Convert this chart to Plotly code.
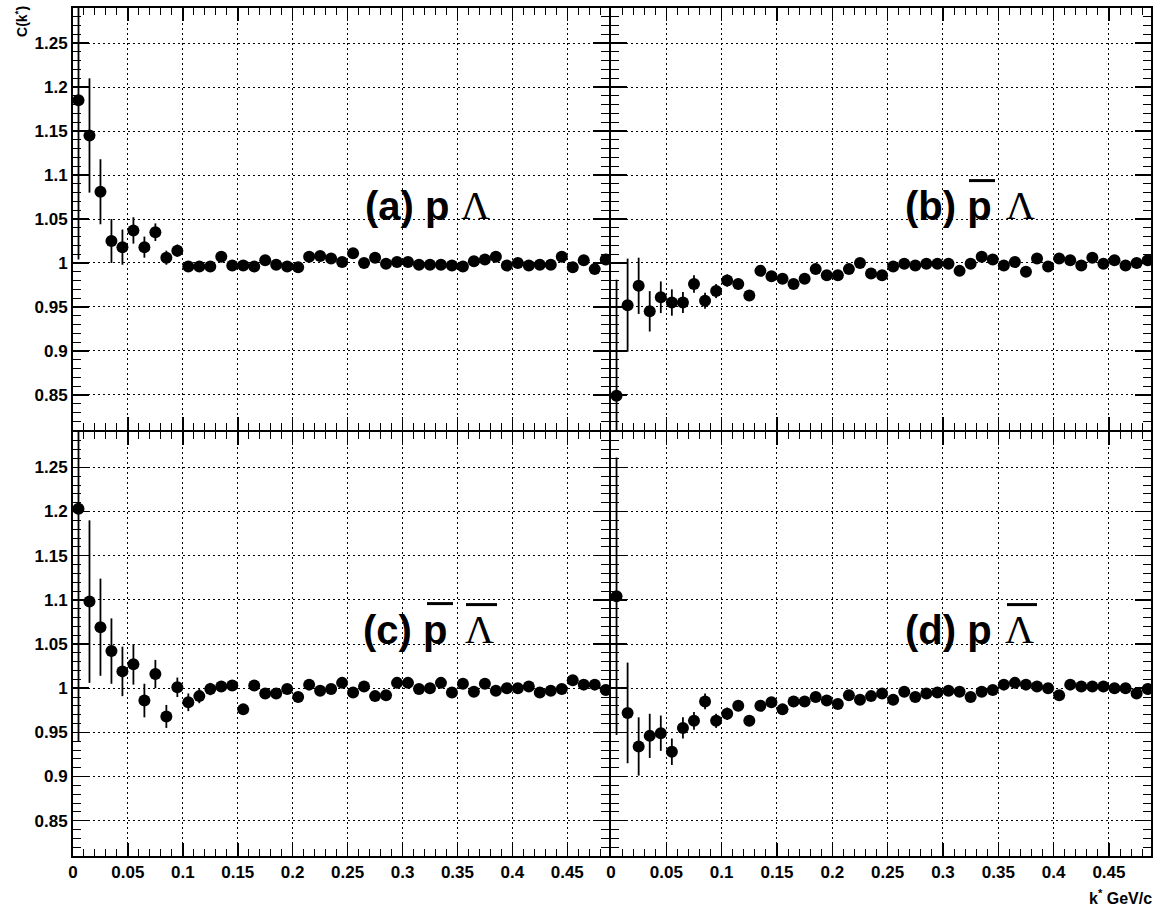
import plotly.graph_objects as go

# ---------------- data ----------------
k_star = [0.005, 0.015, 0.025, 0.035, 0.045, 0.055, 0.065, 0.075, 0.085, 0.095,
          0.105, 0.115, 0.125, 0.135, 0.145, 0.155, 0.165, 0.175, 0.185, 0.195,
          0.205, 0.215, 0.225, 0.235, 0.245, 0.255, 0.265, 0.275, 0.285, 0.295,
          0.305, 0.315, 0.325, 0.335, 0.345, 0.355, 0.365, 0.375, 0.385, 0.395,
          0.405, 0.415, 0.425, 0.435, 0.445, 0.455, 0.465, 0.475, 0.485]

c_p_lam = [1.185, 1.145, 1.081, 1.025, 1.018, 1.037, 1.018, 1.035, 1.006, 1.014,
           0.996, 0.996, 0.996, 1.007, 0.997, 0.997, 0.996, 1.003, 0.998, 0.996,
           0.995, 1.007, 1.008, 1.005, 1.001, 1.011, 1.000, 1.006, 0.999, 1.001,
           1.001, 0.998, 0.998, 0.998, 0.997, 0.996, 1.002, 1.004, 1.007, 0.997,
           1.000, 0.997, 0.998, 0.998, 1.007, 0.995, 1.003, 0.993, 1.004]
e_p_lam = [0.181, 0.065, 0.037, 0.025, 0.020, 0.015, 0.012, 0.010, 0.008, 0.007,
           0.006, 0.006, 0.005, 0.005, 0.005, 0.005, 0.004, 0.004, 0.004, 0.004,
           0.004, 0.004, 0.004, 0.004, 0.004, 0.004, 0.004, 0.004, 0.004, 0.004,
           0.003, 0.003, 0.003, 0.003, 0.003, 0.003, 0.003, 0.003, 0.003, 0.003,
           0.003, 0.003, 0.003, 0.003, 0.003, 0.003, 0.003, 0.003, 0.003]

c_pbar_lam = [0.849, 0.952, 0.974, 0.945, 0.961, 0.955, 0.955, 0.976, 0.957, 0.968,
              0.980, 0.976, 0.963, 0.991, 0.985, 0.982, 0.976, 0.982, 0.993, 0.986,
              0.986, 0.993, 1.000, 0.988, 0.986, 0.996, 0.999, 0.997, 0.999, 0.999,
              0.999, 0.991, 0.999, 1.007, 1.004, 0.997, 1.001, 0.990, 1.005, 0.996,
              1.005, 1.003, 0.997, 1.006, 0.999, 1.003, 0.997, 1.000, 1.003]
e_pbar_lam = [0.132, 0.053, 0.032, 0.023, 0.018, 0.015, 0.012, 0.010, 0.009, 0.008,
              0.007, 0.006, 0.006, 0.005, 0.005, 0.005, 0.005, 0.004, 0.004, 0.004,
              0.004, 0.004, 0.004, 0.004, 0.004, 0.004, 0.004, 0.004, 0.004, 0.004,
              0.003, 0.003, 0.003, 0.003, 0.003, 0.003, 0.003, 0.003, 0.003, 0.003,
              0.003, 0.003, 0.003, 0.003, 0.003, 0.003, 0.003, 0.003, 0.003]

c_pbar_lambar = [1.203, 1.098, 1.069, 1.042, 1.019, 1.027, 0.986, 1.016, 0.968, 1.001,
                 0.984, 0.991, 0.999, 1.002, 1.003, 0.976, 1.003, 0.994, 0.994, 0.999,
                 0.990, 1.004, 0.997, 0.999, 1.006, 0.995, 1.002, 0.991, 0.992, 1.006,
                 1.006, 0.999, 1.000, 1.006, 0.995, 1.005, 0.996, 1.005, 0.997, 1.000,
                 1.000, 1.002, 0.995, 0.997, 0.999, 1.009, 1.004, 1.004, 0.998]
e_pbar_lambar = [0.263, 0.092, 0.055, 0.037, 0.028, 0.023, 0.019, 0.016, 0.013, 0.011,
                 0.010, 0.008, 0.007, 0.006, 0.006, 0.005, 0.005, 0.005, 0.005, 0.004,
                 0.004, 0.004, 0.004, 0.004, 0.004, 0.004, 0.004, 0.004, 0.004, 0.004,
                 0.004, 0.004, 0.004, 0.004, 0.004, 0.004, 0.004, 0.004, 0.004, 0.004,
                 0.004, 0.004, 0.004, 0.004, 0.004, 0.004, 0.004, 0.004, 0.004]

c_p_lambar = [1.104, 0.972, 0.934, 0.946, 0.949, 0.928, 0.955, 0.963, 0.985, 0.963,
              0.971, 0.980, 0.963, 0.980, 0.984, 0.976, 0.985, 0.985, 0.990, 0.986,
              0.982, 0.992, 0.987, 0.991, 0.994, 0.987, 0.996, 0.990, 0.994, 0.995,
              0.997, 0.996, 0.990, 0.996, 0.998, 1.004, 1.006, 1.004, 1.002, 1.000,
              0.992, 1.004, 1.002, 1.002, 1.002, 1.000, 1.000, 0.994, 0.999]
e_p_lambar = [0.157, 0.057, 0.033, 0.025, 0.020, 0.015, 0.012, 0.010, 0.009, 0.008,
              0.007, 0.006, 0.006, 0.005, 0.005, 0.005, 0.005, 0.004, 0.004, 0.004,
              0.004, 0.004, 0.004, 0.004, 0.004, 0.004, 0.004, 0.004, 0.004, 0.004,
              0.003, 0.003, 0.003, 0.003, 0.003, 0.003, 0.003, 0.003, 0.003, 0.003,
              0.003, 0.003, 0.003, 0.003, 0.003, 0.003, 0.003, 0.003, 0.003]

x_tick_vals = [0, 0.05, 0.1, 0.15, 0.2, 0.25, 0.3, 0.35, 0.4, 0.45]
x_tick_text = ["0", "0.05", "0.1", "0.15", "0.2", "0.25", "0.3", "0.35", "0.4", "0.45"]
y_tick_vals = [0.85, 0.9, 0.95, 1.0, 1.05, 1.1, 1.15, 1.2, 1.25]
y_tick_text = ["0.85", "0.9", "0.95", "1", "1.05", "1.1", "1.15", "1.2", "1.25"]

panel_labels = ["(a) p", "(b) p", "(c) p", "(d) p"]
panel_symbol = "\u039b"

# ---------------- layout ----------------
W, H = 1160, 909
ML, MR, MT, MB = 73, 9, 6, 53
PW, PH = W - ML - MR, H - MT - MB

def px(X):
    return (X - ML) / PW

def py(Y):
    return (H - MB - Y) / PH

FONT = "Liberation Sans, Arial, Helvetica, sans-serif"
SERIF = "Liberation Serif, Times New Roman, serif"

xdom = [[0.0, px(609)], [px(611), 1.0]]
ydom = [[py(429), 1.0], [0.0, py(431)]]
XR = [0, 0.488]
YR = [0.81, 1.29]
TICKFONT = dict(family=FONT, size=17, color="black", weight="bold")

fig = go.Figure()

series = [(c_p_lam, e_p_lam), (c_pbar_lam, e_pbar_lam),
          (c_pbar_lambar, e_pbar_lambar), (c_p_lambar, e_p_lambar)]

for i, (vals, errs) in enumerate(series):
    n = i + 1
    xa = "x" if n == 1 else f"x{n}"
    ya = "y" if n == 1 else f"y{n}"
    fig.add_trace(go.Scatter(
        x=k_star, y=vals, xaxis=xa, yaxis=ya, mode="markers",
        marker=dict(color="black", size=12, line=dict(width=0)),
        error_y=dict(type="data", array=errs, visible=True, color="black",
                     thickness=1.8, width=0),
        showlegend=False, cliponaxis=True, hoverinfo="skip",
    ))
    row, col = divmod(i, 2)
    common_x = dict(
        domain=xdom[col], range=XR, anchor=ya,
        showline=True, linecolor="black", linewidth=2, mirror="ticks",
        ticks="inside", ticklen=13, tickwidth=1.5, tickcolor="black",
        tickmode="array", tickvals=x_tick_vals, ticktext=x_tick_text,
        showticklabels=(row == 1), tickfont=TICKFONT,
        showgrid=True, gridcolor="black", gridwidth=1, griddash="2px,3px",
        zeroline=False, fixedrange=True,
        minor=dict(ticks="inside", ticklen=7, tickwidth=1, tickcolor="black",
                   tickmode="linear", tick0=0, dtick=0.01, showgrid=False),
    )
    common_y = dict(
        domain=ydom[row], range=YR, anchor=xa,
        showline=True, linecolor="black", linewidth=2, mirror="ticks",
        ticks="inside", ticklen=16, tickwidth=1.5, tickcolor="black",
        tickmode="array", tickvals=y_tick_vals, ticktext=y_tick_text,
        showticklabels=(col == 0), tickfont=TICKFONT,
        showgrid=True, gridcolor="black", gridwidth=1, griddash="2px,3px",
        zeroline=False, fixedrange=True,
        minor=dict(ticks="inside", ticklen=8, tickwidth=1, tickcolor="black",
                   tickmode="linear", tick0=0.8, dtick=0.01, showgrid=False),
    )
    fig.update_layout(**{("xaxis" if n == 1 else f"xaxis{n}"): common_x,
                         ("yaxis" if n == 1 else f"yaxis{n}"): common_y})

annotations = []
shapes = []
# label placement (pixel positions in the picture): left of "(x) p", left of Lambda, baseline
lab_pos = [
    (363, 459, 218),
    (903, 1004, 218),
    (361, 463, 643),
    (903, 1003, 643),
]
LS = 40
for i, (xl, xs, base) in enumerate(lab_pos):
    annotations.append(dict(
        x=px(xl), y=py(base - 0.35 * LS), xref="paper", yref="paper",
        xanchor="left", yanchor="middle", showarrow=False,
        text="<b>" + panel_labels[i] + "</b>",
        font=dict(family=FONT, size=LS, color="black"),
    ))
    annotations.append(dict(
        x=px(xs), y=py(base - 0.34 * LS), xref="paper", yref="paper",
        xanchor="left", yanchor="middle", showarrow=False,
        text=panel_symbol,
        font=dict(family=SERIF, size=LS, color="black"),
    ))

# overbars (antiparticles)
bars = [(969, 995, 179), (427, 453, 603), (466, 497, 604), (1007, 1037, 604)]
for x0, x1, yb in bars:
    shapes.append(dict(type="line", xref="paper", yref="paper",
                       x0=px(x0), x1=px(x1), y0=py(yb), y1=py(yb),
                       line=dict(color="black", width=3)))

# axis titles
annotations.append(dict(
    x=px(21), y=py(20), xref="paper", yref="paper", xanchor="center",
    yanchor="middle", showarrow=False, textangle=-90,
    text="<b>C(k<sup>*</sup>)</b>",
    font=dict(family=FONT, size=14, color="black"),
))
annotations.append(dict(
    x=px(1154), y=py(897), xref="paper", yref="paper", xanchor="right",
    yanchor="middle", showarrow=False,
    text="<b>k<sup>*</sup> GeV/c</b>",
    font=dict(family=FONT, size=16, color="black"),
))

fig.update_layout(
    width=W, height=H,
    margin=dict(l=ML, r=MR, t=MT, b=MB, pad=0),
    paper_bgcolor="white", plot_bgcolor="white",
    annotations=annotations, shapes=shapes,
    showlegend=False,
)

fig.write_html("out.html",
               config={"displayModeBar": False, "staticPlot": True},
               post_script="document.body.style.margin='0';"
                           "document.body.style.overflow='hidden';")
